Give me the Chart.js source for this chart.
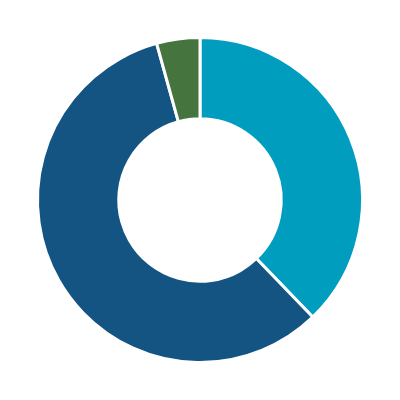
<!DOCTYPE html>
<html>
<head>
<script src="https://cdn.jsdelivr.net/npm/chart.js@4/dist/chart.umd.min.js"></script>
<style>
  html, body { margin: 0; padding: 0; background: #fff; }
  #wrap { width: 400px; height: 400px; }
</style>
</head>
<body>
<div id="wrap"><canvas id="donut"></canvas></div>
<script>
const labels = ['A', 'B', 'C'];
const values = [37.8, 57.9, 4.3];
const colors = ['#009dbf', '#135483', '#46743e'];

new Chart(document.getElementById('donut').getContext('2d'), {
    type: 'doughnut',
    data: {
        labels: labels,
        datasets: [{
            data: values,
            backgroundColor: colors,
            borderColor: '#ffffff',
            borderWidth: 3
        }]
    },
    options: {
        responsive: true,
        maintainAspectRatio: false,
        animation: false,
        cutout: '50%',
        layout: { padding: 36 },
        plugins: { legend: { display: false }, tooltip: { enabled: false } }
    }
});
</script>
</body>
</html>
